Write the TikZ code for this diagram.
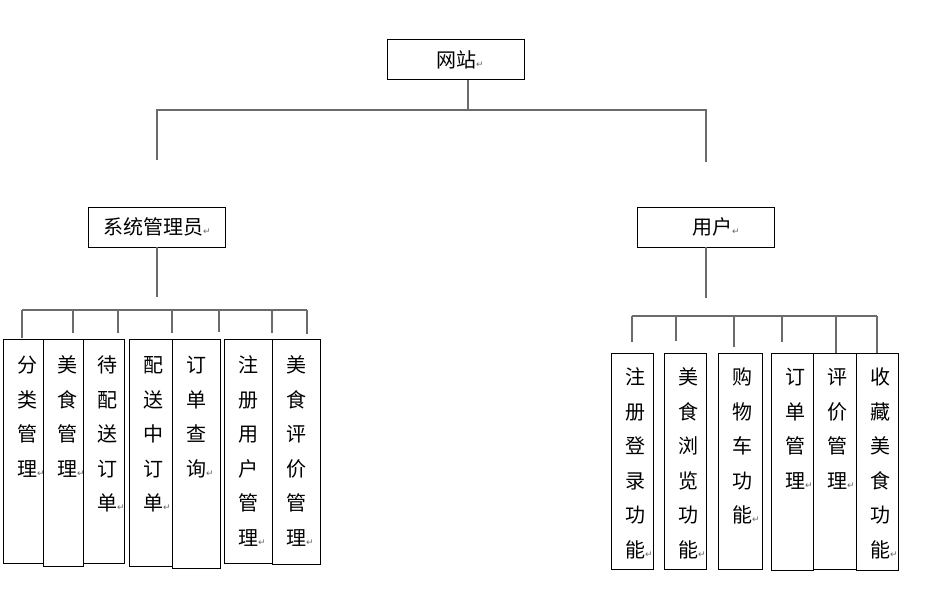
\documentclass[tikz,border=0pt]{standalone}
\usepackage{fontspec}
\newfontfamily\cjkfont{Noto Sans CJK SC}
\newfontfamily\markfont{DejaVu Sans}
\usetikzlibrary{%
  positioning,
  calc,
}

% small paragraph mark after each text
\newcommand{\ret}{{\markfont\fontsize{9pt}{9pt}\selectfont\color{black!60}↵}}
% one character per line, from the top of the box
\newlength{\coltop}
\setlength{\coltop}{9.5pt}
\newcommand{\colstack}[3]{%
  \parbox[t][#2pt][t]{#1pt}{%
    \cjkfont\fontsize{20pt}{34.5pt}\selectfont
    \leftskip=14pt\rightskip=0pt plus 1fil
    \vspace*{\coltop}%
    \foreach \ch in {#3} {\strut\ch\par}%
  }%
}

\begin{document}
\begin{tikzpicture}[%
           x=1pt, y=-1pt,
           topbox/.style={
             % The shape:
             rectangle,
             % The size:
             minimum width=137pt,
             minimum height=40pt,
             inner sep=0pt,
             % The border:
             draw=black,
             line width=0.8pt,
             % The text:
             font=\cjkfont\fontsize{20pt}{24pt}\selectfont,
           },
           colbox/.style={
             rectangle,
             inner sep=0pt,
             outer sep=0pt,
             draw=black,
             line width=0.8pt,
             anchor=north west,
           },
           nextcol/.style={
             % glued to the right side of the box before
             right=0pt of #1.north east,
             anchor=north west,
           },
           link/.style={
             line width=1.2pt,
             color=black!58,
           }]
         \useasboundingbox (0,0) rectangle (936,608);

         \node[topbox] (root) at (455.5,59.5) {\raisebox{-4.5pt}{\hspace*{9pt}网站\ret}};
         \node[topbox] (admin) at (157,227) {\raisebox{-4.5pt}{系统管理员\ret}};
         \node[topbox] (user) at (706,227) {\raisebox{-4.5pt}{\hspace*{20pt}用户\ret}};

         % admin columns
         \node[colbox] (m1) at (3,339) {\colstack{40}{224}{分,类,管,理\ret}};
         \node[colbox, nextcol=m1] (m2) {\colstack{40}{227}{美,食,管,理\ret}};
         \node[colbox, nextcol=m2] (m3) {\colstack{41}{224}{待,配,送,订,单\ret}};
         \node[colbox] (m4) at (129,339) {\colstack{43}{227}{配,送,中,订,单\ret}};
         \node[colbox, nextcol=m4] (m5) {\colstack{48}{229}{订,单,查,询\ret}};
         \node[colbox] (m6) at (224,339) {\colstack{48}{224}{注,册,用,户,管,理\ret}};
         \node[colbox, nextcol=m6] (m7) {\colstack{48}{225}{美,食,评,价,管,理\ret}};

         % user columns
         \setlength{\coltop}{7.5pt}
         \node[colbox] (u1) at (611,353) {\colstack{42}{216}{注,册,登,录,功,能\ret}};
         \node[colbox] (u2) at (664,353) {\colstack{42}{216}{美,食,浏,览,功,能\ret}};
         \node[colbox] (u3) at (718,353) {\colstack{44}{216}{购,物,车,功,能\ret}};
         \node[colbox] (u4) at (771,353) {\colstack{42}{217}{订,单,管,理\ret}};
         \node[colbox, nextcol=u4] (u5) {\colstack{43}{216}{评,价,管,理\ret}};
         \node[colbox, nextcol=u5] (u6) {\colstack{42}{217}{收,藏,美,食,功,能\ret}};

         % top level lines
         \coordinate (hub) at ($ (root.south) + (12.5,30) $);
         \draw[link] (root.south -| hub) -- (hub);
         \draw[link] ($ (admin.north) + (0,-47) $) |- (hub) -| ($ (user.north) + (0,-45) $);
         \draw[link] (admin.south) -- ++(0,50);
         \draw[link] (user.south) -- ++(0,51);

         % column lines
         \coordinate (leftbar) at (0,310);
         \foreach \col/\dx/\gap in {m1/19/1, m2/30/6, m3/35/6, m4/43/6, m5/47/7, m6/48/6, m7/35/5}
           \draw[link] ($ (\col.north west) + (\dx,-\gap) $) coordinate (foot-\col) -- (foot-\col |- leftbar);
         \draw[link] (foot-m1 |- leftbar) -- (foot-m7 |- leftbar);

         \coordinate (rightbar) at (0,316);
         \foreach \col/\dx/\gap in {u1/21/11, u2/12/12, u3/16/6, u4/11/11, u5/23/0, u6/21/0}
           \draw[link] ($ (\col.north west) + (\dx,-\gap) $) coordinate (foot-\col) -- (foot-\col |- rightbar);
         \draw[link] (foot-u1 |- rightbar) -- (foot-u6 |- rightbar);
       \end{tikzpicture}
\end{document}
